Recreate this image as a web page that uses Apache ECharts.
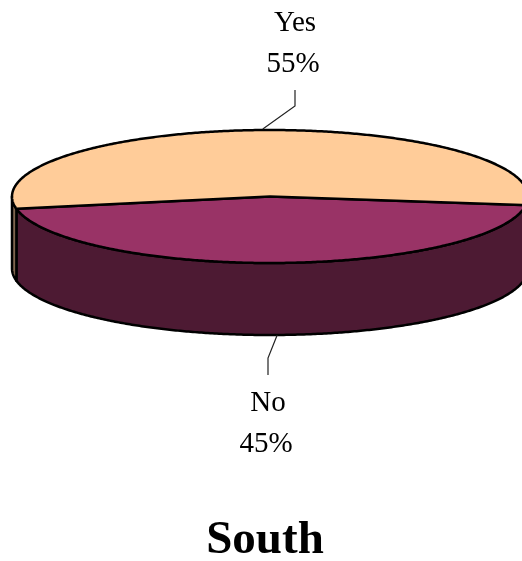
<!DOCTYPE html>
<html>
<head>
<meta charset="utf-8">
<style>html,body{margin:0;padding:0;background:#fff}#c{width:522px;height:561px}</style>
<script src="https://cdn.jsdelivr.net/npm/echarts@6/dist/echarts.min.js"></script>
</head>
<body>
<div id="c"></div>
<script>
const categories = ['No', 'Yes'];
const values = [45, 55];
const percentLabels = ['45%', '55%'];
const topColors = ['#993366', '#FFCC99'];
const wallColors = ['#4D1A33', '#806650'];
const chartTitle = 'South';

const CX = 270, CY = 196.5, RX = 258, RY = 66.5, DEPTH = 72, START = 7.4;
const FONT = '"Liberation Serif", serif';
const total = values.reduce((a, b) => a + b, 0);
const pt = (deg, dy) => [CX + RX * Math.cos(deg * Math.PI / 180), CY + (dy || 0) + RY * Math.sin(deg * Math.PI / 180)];
const arc = (a, b, dy) => { const out = []; const n = Math.ceil(Math.abs(b - a) * 2); for (let i = 0; i <= n; i++) out.push(pt(a + (b - a) * i / n, dy)); return out; };

function renderItem(params, api) {
  const i = params.dataIndex;
  let a0 = START;
  for (let k = 0; k < i; k++) a0 += values[k] / total * 360;
  const v = api.value(1);
  const a1 = a0 + v / total * 360;
  const mid = (a0 + a1) / 2;
  const children = [];
  // visible front wall: the part of the slice between 0 and 180 degrees
  const ranges = [[Math.max(a0, 0), Math.min(a1, 180)], [Math.max(a0, 360), Math.min(a1, 540)]];
  ranges.forEach(function (r) {
    if (r[1] <= r[0]) return;
    const upper = arc(r[0], r[1], 0), lower = arc(r[1], r[0], DEPTH);
    children.push({ type: 'polygon', shape: { points: upper.concat(lower) },
      style: { fill: wallColors[i], stroke: '#000', lineWidth: 2.5, lineJoin: 'round' } });
  });
  // top face
  children.push({ type: 'polygon', shape: { points: [[CX, CY]].concat(arc(a0, a1, 0)) },
    style: { fill: topColors[i], stroke: '#000', lineWidth: 2.5, lineJoin: 'round' } });
  // leader line and label, anchored at the slice's mid-angle
  const front = Math.sin(mid * Math.PI / 180) > 0;
  const p = pt(mid, front ? DEPTH : 0);
  const leader = front ? [p, [268, 358], [268, 375]] : [[p[0], p[1] - 1], [295, 106], [295, 90]];
  children.push({ type: 'polyline', shape: { points: leader }, style: { fill: 'none', stroke: '#222', lineWidth: 1.2 } });
  const lx1 = front ? 268 : 295, lx2 = front ? 266 : 293, y1 = front ? 418 : 38, y2 = front ? 459 : 79;
  children.push({ type: 'text', style: { text: api.value(0), x: lx1, y: y1, align: 'center', verticalAlign: 'bottom', font: '29px ' + FONT, fill: '#000' }, z2: 5 });
  children.push({ type: 'text', style: { text: percentLabels[i], x: lx2, y: y2, align: 'center', verticalAlign: 'bottom', font: '29px ' + FONT, fill: '#000' }, z2: 5 });
  return { type: 'group', children: children };
}

const chart = echarts.init(document.getElementById('c'), null, { renderer: 'canvas', width: 522, height: 561 });
chart.setOption({
  animation: false,
  backgroundColor: '#fff',
  title: { text: chartTitle, left: 265, top: 517, textAlign: 'center', padding: 0,
    textStyle: { fontFamily: FONT, fontWeight: 'bold', fontSize: 47, color: '#000' } },
  series: [{
    type: 'custom', coordinateSystem: 'none', silent: true, clip: false,
    renderItem: renderItem,
    data: categories.map((c, i) => [c, values[i]]),
    encode: { itemName: 0, value: 1 }
  }]
});
</script>
</body>
</html>
